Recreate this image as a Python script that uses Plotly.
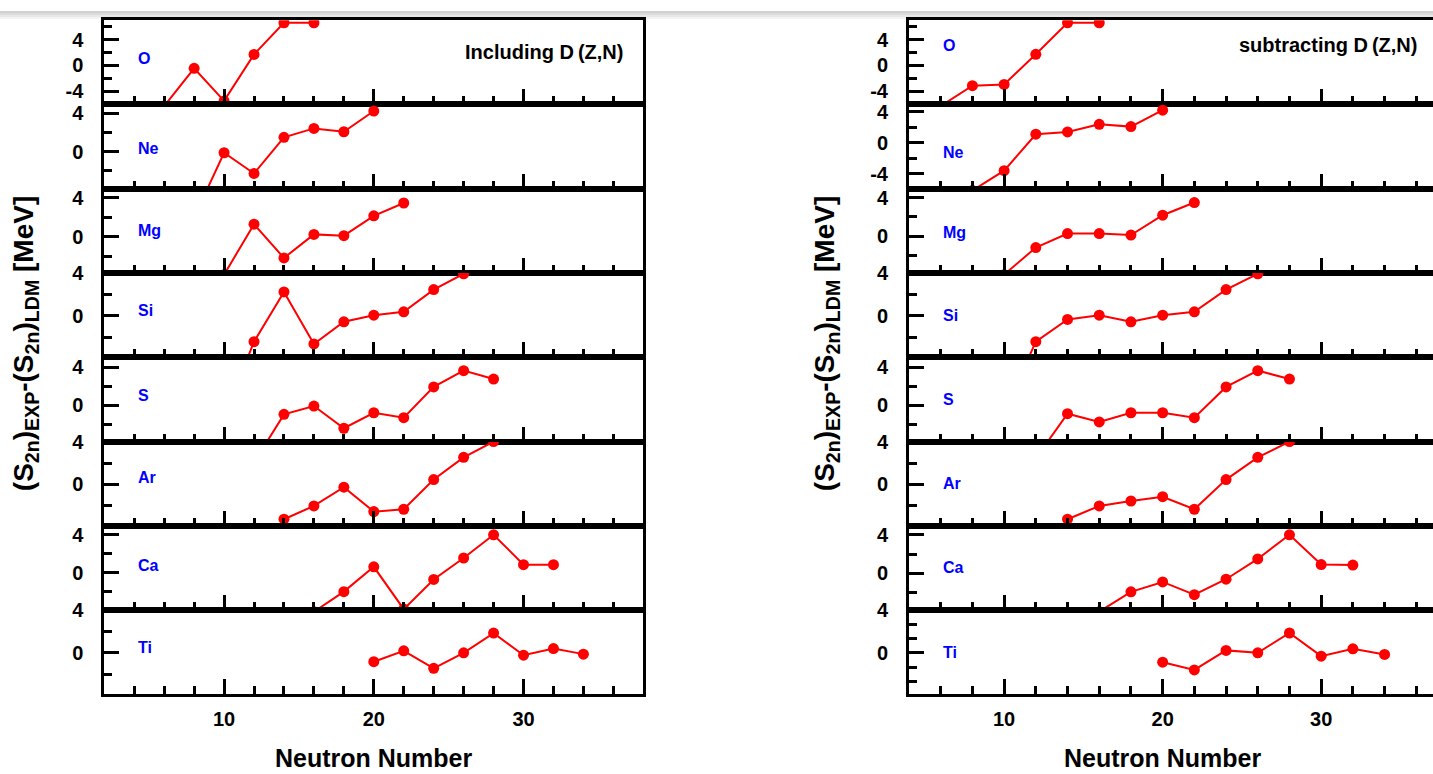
import plotly.graph_objects as go

# ---------------- data ----------------
elements = ["O", "Ne", "Mg", "Si", "S", "Ar", "Ca", "Ti"]

N_O = [6, 8, 10, 12, 14, 16]
incl_O = [-6.3, -0.45, -5.5, 1.7, 6.6, 6.6]
sub_O = [-6.3, -3.15, -2.95, 1.72, 6.6, 6.6]

N_Ne = [8, 10, 12, 14, 16, 18, 20]
incl_Ne = [-6.9, -0.13, -2.3, 1.49, 2.42, 2.07, 4.24]
sub_Ne = [-6.13, -3.58, 1.11, 1.4, 2.39, 2.09, 4.21]

N_Mg = [10, 12, 14, 16, 18, 20, 22]
incl_Mg = [-3.92, 1.28, -2.2, 0.23, 0.1, 2.14, 3.46]
sub_Mg = [-4.03, -1.2, 0.25, 0.25, 0.1, 2.17, 3.49]

N_Si = [10, 12, 14, 16, 18, 20, 22, 24, 26]
incl_Si = [-9.5, -2.42, 2.23, -2.63, -0.56, 0.06, 0.37, 2.45, 3.93]
sub_Si = [-9.06, -2.42, -0.34, 0.06, -0.56, 0.06, 0.37, 2.45, 3.93]

N_S = [12, 14, 16, 18, 20, 22, 24, 26, 28]
incl_S = [-6.0, -0.94, -0.07, -2.4, -0.77, -1.29, 1.94, 3.65, 2.77]
sub_S = [-5.56, -0.87, -1.74, -0.77, -0.77, -1.29, 1.94, 3.65, 2.77]

N_Ar = [14, 16, 18, 20, 22, 24, 26, 28]
incl_Ar = [-3.24, -2.0, -0.25, -2.53, -2.31, 0.46, 2.53, 4.0]
sub_Ar = [-3.24, -2.0, -1.54, -1.14, -2.31, 0.46, 2.53, 4.0]

N_Ca = [16, 18, 20, 22, 24, 26, 28, 30, 32]
incl_Ca = [-4.1, -1.98, 0.63, -3.82, -0.7, 1.56, 4.0, 0.86, 0.86]
sub_Ca = [-3.96, -1.9, -0.88, -2.2, -0.6, 1.5, 4.0, 0.92, 0.86]

N_Ti = [20, 22, 24, 26, 28, 30, 32, 34]
incl_Ti = [-0.83, 0.19, -1.45, 0.0, 1.85, -0.22, 0.4, -0.12]
sub_Ti = [-0.88, -1.6, 0.23, 0.0, 1.86, -0.31, 0.38, -0.15]

N_list = [N_O, N_Ne, N_Mg, N_Si, N_S, N_Ar, N_Ca, N_Ti]
incl_list = [incl_O, incl_Ne, incl_Mg, incl_Si, incl_S, incl_Ar, incl_Ca, incl_Ti]
sub_list = [sub_O, sub_Ne, sub_Mg, sub_Si, sub_S, sub_Ar, sub_Ca, sub_Ti]

x_tickvals = [10, 20, 30]
x_ticktext = ["10", "20", "30"]
y_tickvals = [-4, 0, 4]
y_ticktext = ["-4", "0", "4"]

panel_notes = ["Including D\u2009(Z,N)", "subtracting D\u2009(Z,N)"]
x_title = "Neutron Number"
y_title = "(S<sub>2n</sub>)<sub>EXP</sub>-(S<sub>2n</sub>)<sub>LDM</sub> [MeV]"

# ---------------- layout settings ----------------
W, H = 1433, 774
FONT = "Liberation Sans, Arial, sans-serif"

yr_left = [[-6.05, 7.0], [-3.9, 4.93], [-3.75, 4.93], [-3.88, 4.002],
           [-3.8, 5.05], [-3.86, 4.002], [-3.93, 4.94], [-3.9, 4.002]]
yr_right = [[-6.05, 7.0], [-5.9, 4.94], [-3.86, 4.93], [-3.88, 4.002],
            [-3.8, 5.05], [-3.86, 4.002], [-3.8, 4.92], [-3.9, 4.002]]
minor_right = [2, 2, 2, 2, 2, 2, 2, 4 / 3]

lab_left = [(4.1, 1.06), (4.1, 0.34), (4.1, 0.67), (4.1, 0.53),
            (4.1, 1.04), (4.1, 0.62), (4.1, 0.8), (4.1, 0.46)]
lab_right = [(6.0, 3.08), (6.0, -1.3), (6.0, 0.38), (6.0, 0.07),
             (6.0, 0.63), (6.0, 0.06), (6.0, 0.66), (6.0, 0.0)]

col_dom = [[104.3 / W, 643.3 / W], [909.0 / W, 1.0]]
col_xr = [[2, 38], [4, 4 + (W - 909.0) / (539.0 / 34)]]

top_px, panel_h = 9.3, 85.5

fig = go.Figure()
layout = dict(
    width=W, height=H, margin=dict(l=0, r=0, t=0, b=0),
    paper_bgcolor="white", plot_bgcolor="white", showlegend=False,
    font=dict(family=FONT, color="black"),
)
annotations = []
shapes = []
tfont = dict(size=20, family=FONT, weight="bold", color="black")

for c in range(2):
    vals = incl_list if c == 0 else sub_list
    yrs = yr_left if c == 0 else yr_right
    labs = lab_left if c == 0 else lab_right
    for i in range(8):
        idx = c * 8 + i + 1
        xa = "xaxis" if idx == 1 else f"xaxis{idx}"
        ya = "yaxis" if idx == 1 else f"yaxis{idx}"
        xr = "x" if idx == 1 else f"x{idx}"
        yrf = "y" if idx == 1 else f"y{idx}"
        t = top_px + panel_h * i
        b = t + panel_h
        layout[xa] = dict(
            domain=col_dom[c], range=col_xr[c], anchor=yrf,
            showline=True, linewidth=3, linecolor="black", mirror=True,
            showgrid=False, zeroline=False,
            ticks="inside", tickmode="array", tickvals=x_tickvals, ticktext=x_ticktext,
            ticklen=15, tickwidth=2.5, tickcolor="black",
            minor=dict(ticks="inside", tickmode="linear", tick0=0, dtick=2,
                       ticklen=8, tickwidth=2.5, tickcolor="black", showgrid=False),
            showticklabels=(i == 7), ticklabelstandoff=5,
            tickfont=tfont,
        )
        layout[ya] = dict(
            domain=[1 - b / H, 1 - t / H], range=yrs[i], anchor=xr,
            showline=True, linewidth=3, linecolor="black", mirror=(c == 0),
            showgrid=False, zeroline=False,
            ticks="inside", tickmode="array", tickvals=y_tickvals, ticktext=y_ticktext,
            ticklen=15, tickwidth=2.5, tickcolor="black",
            minor=dict(ticks="inside", tickmode="linear", tick0=0,
                       dtick=(2 if c == 0 else minor_right[i]),
                       ticklen=8, tickwidth=2.5, tickcolor="black", showgrid=False),
            ticklabelstandoff=14,
            tickfont=tfont,
        )
        fig.add_trace(go.Scatter(
            x=N_list[i], y=vals[i], mode="lines+markers",
            line=dict(color="#ff0000", width=2),
            marker=dict(color="#ff0000", size=11),
            xaxis=xr, yaxis=yrf, cliponaxis=True, hoverinfo="skip",
        ))
        annotations.append(dict(
            text=f"<b>{elements[i]}</b>", x=labs[i][0], y=labs[i][1],
            xref=xr, yref=yrf, xanchor="left", yanchor="middle", showarrow=False,
            font=dict(size=16, color="#0000ff", family=FONT),
        ))

annotations.append(dict(text=f"<b>{panel_notes[0]}</b>", x=625 / W, y=1 - 42 / H,
                        xref="paper", yref="paper", xanchor="right", yanchor="middle",
                        showarrow=False, font=dict(size=20, family=FONT)))
annotations.append(dict(text=f"<b>{panel_notes[1]}</b>", x=1419 / W, y=1 - 34 / H,
                        xref="paper", yref="paper", xanchor="right", yanchor="middle",
                        showarrow=False, font=dict(size=20, family=FONT)))
for xr in ["x8", "x16"]:
    annotations.append(dict(text=f"<b>{x_title}</b>", x=20, y=1 - 758 / H,
                            xref=xr, yref="paper", xanchor="center", yanchor="middle",
                            showarrow=False, font=dict(size=25, family=FONT)))
for xp in [25 / W, 826 / W]:
    annotations.append(dict(text=f"<b>{y_title}</b>", x=xp, y=1 - 338 / H,
                            xref="paper", yref="paper", xanchor="center", yanchor="middle",
                            textangle=-90, showarrow=False, font=dict(size=28, family=FONT)))

for k, colr in enumerate(["#d0d0d0", "#dcdcdc", "#e8e8e8", "#f3f3f3"]):
    shapes.append(dict(type="rect", xref="paper", yref="paper", x0=0, x1=1,
                       y0=1 - (2 * k + 2) / H, y1=1 - (2 * k) / H,
                       fillcolor=colr, line=dict(width=0), layer="below"))

layout["annotations"] = annotations
layout["shapes"] = shapes
fig.update_layout(**layout)
fig.write_html("out.html")
